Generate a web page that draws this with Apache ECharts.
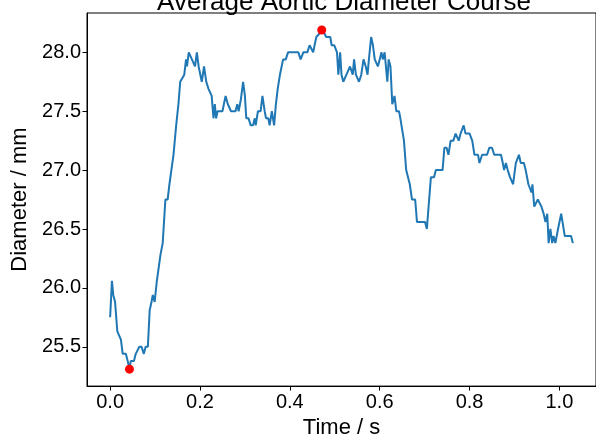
<!DOCTYPE html>
<html>
<head>
<meta charset="utf-8">
<title>Average Aortic Diameter Course</title>
<script src="https://cdn.jsdelivr.net/npm/echarts@6/dist/echarts.min.js"></script>
<style>
  html, body { margin: 0; padding: 0; background: #fff; }
  #chart { width: 596px; height: 444px; }
</style>
</head>
<body>
<div id="chart"></div>
<script>
// Averaged aortic diameter over one cardiac cycle
const times = [
  0.000, 0.004, 0.007, 0.011, 0.016, 0.020, 0.024, 0.028, 0.035, 0.039,
  0.043, 0.046, 0.053, 0.057, 0.061, 0.065, 0.070, 0.075, 0.079, 0.084,
  0.088, 0.092, 0.095, 0.099, 0.104, 0.108, 0.112, 0.117, 0.123, 0.128,
  0.132, 0.136, 0.141, 0.147, 0.152, 0.156, 0.160, 0.165, 0.169, 0.171,
  0.175, 0.178, 0.182, 0.186, 0.189, 0.193, 0.197, 0.200, 0.204, 0.209,
  0.214, 0.219, 0.222, 0.226, 0.230, 0.233, 0.236, 0.239, 0.250, 0.257,
  0.262, 0.266, 0.269, 0.279, 0.283, 0.286, 0.291, 0.296, 0.300, 0.303,
  0.308, 0.313, 0.318, 0.322, 0.324, 0.329, 0.335, 0.339, 0.344, 0.347,
  0.352, 0.355, 0.360, 0.365, 0.369, 0.373, 0.378, 0.382, 0.385, 0.391,
  0.396, 0.419, 0.424, 0.430, 0.439, 0.444, 0.448, 0.452, 0.455, 0.459,
  0.463, 0.466, 0.471, 0.477, 0.481, 0.490, 0.493, 0.499, 0.505, 0.508,
  0.512, 0.515, 0.519, 0.523, 0.526, 0.530, 0.534, 0.537, 0.540, 0.543,
  0.547, 0.551, 0.554, 0.559, 0.564, 0.569, 0.573, 0.576, 0.581, 0.585,
  0.589, 0.593, 0.596, 0.600, 0.604, 0.607, 0.611, 0.617, 0.620, 0.624,
  0.628, 0.633, 0.637, 0.643, 0.646, 0.650, 0.654, 0.659, 0.662, 0.667,
  0.672, 0.679, 0.683, 0.701, 0.705, 0.709, 0.714, 0.721, 0.725, 0.740,
  0.744, 0.749, 0.753, 0.758, 0.764, 0.769, 0.772, 0.776, 0.780, 0.784,
  0.787, 0.791, 0.800, 0.806, 0.811, 0.819, 0.822, 0.828, 0.839, 0.844,
  0.850, 0.855, 0.870, 0.874, 0.877, 0.881, 0.885, 0.890, 0.894, 0.897,
  0.903, 0.907, 0.910, 0.914, 0.921, 0.925, 0.931, 0.935, 0.938, 0.940,
  0.944, 0.947, 0.952, 0.956, 0.960, 0.965, 0.969, 0.973, 0.976, 0.980,
  0.984, 0.987, 0.991, 0.997, 1.000, 1.004, 1.012, 1.026, 1.030
];

const diameters = [
  25.75, 26.06, 25.94, 25.88, 25.63, 25.63, 25.56, 25.44, 25.44, 25.38,
  25.31, 25.38, 25.38, 25.44, 25.44, 25.50, 25.50, 25.44, 25.50, 25.50,
  25.81, 25.88, 25.94, 25.88, 26.06, 26.06, 26.28, 26.38, 26.75, 26.75,
  26.88, 26.88, 27.13, 27.38, 27.56, 27.75, 27.75, 27.81, 27.94, 27.88,
  28.00, 28.00, 27.94, 27.94, 27.88, 28.00, 27.88, 27.88, 27.75, 27.88,
  27.75, 27.69, 27.69, 27.63, 27.44, 27.56, 27.44, 27.50, 27.50, 27.63,
  27.56, 27.56, 27.50, 27.50, 27.56, 27.50, 27.60, 27.75, 27.63, 27.44,
  27.44, 27.38, 27.38, 27.44, 27.38, 27.50, 27.50, 27.63, 27.50, 27.44,
  27.44, 27.38, 27.50, 27.38, 27.56, 27.69, 27.81, 27.81, 27.94, 27.94,
  28.00, 28.00, 27.94, 28.00, 28.00, 28.06, 28.06, 28.00, 28.06, 28.13,
  28.13, 28.16, 28.19, 28.16, 28.13, 28.13, 28.06, 28.06, 28.00, 27.81,
  28.00, 27.81, 27.75, 27.75, 27.81, 27.81, 27.88, 27.88, 27.81, 27.94,
  27.81, 27.81, 27.75, 27.81, 27.94, 27.88, 27.81, 27.94, 28.13, 28.06,
  27.94, 27.94, 27.88, 27.94, 28.00, 27.94, 28.00, 27.75, 27.94, 27.88,
  27.56, 27.63, 27.50, 27.50, 27.44, 27.44, 27.25, 27.00, 27.00, 26.88,
  26.75, 26.75, 26.56, 26.56, 26.50, 26.50, 26.94, 26.94, 27.00, 27.00,
  27.19, 27.19, 27.13, 27.25, 27.25, 27.31, 27.31, 27.25, 27.31, 27.31,
  27.38, 27.31, 27.31, 27.25, 27.13, 27.13, 27.06, 27.13, 27.13, 27.19,
  27.19, 27.13, 27.13, 27.06, 27.00, 27.06, 27.00, 26.94, 26.94, 26.88,
  27.06, 27.06, 27.13, 27.06, 27.06, 27.00, 26.88, 26.88, 26.81, 26.88,
  26.69, 26.69, 26.75, 26.75, 26.69, 26.63, 26.56, 26.63, 26.38, 26.50,
  26.38, 26.44, 26.38, 26.50, 26.50, 26.63, 26.44, 26.44, 26.38
];

// Extremes of the averaged course (minimum and maximum diameter)
const extremaTimes = [0.043, 0.471];
const extremaDiameters = [25.31, 28.19];

const xTicks = [0.0, 0.2, 0.4, 0.6, 0.8, 1.0];
const yTicks = [25.5, 26.0, 26.5, 27.0, 27.5, 28.0];

const FONT = '"Liberation Sans", Arial, Helvetica, sans-serif';

// Axis limits padded by 5% of the data span on each side
const tMin = Math.min(...times), tMax = Math.max(...times);
const dMin = Math.min(...diameters), dMax = Math.max(...diameters);
const tPad = (tMax - tMin) * 0.05, dPad = (dMax - dMin) * 0.05;

const chart = echarts.init(document.getElementById('chart'), null, { renderer: 'canvas' });

chart.setOption({
  backgroundColor: '#ffffff',
  animation: false,
  title: {
    text: 'Average Aortic Diameter Course',
    left: 339,
    textAlign: 'center',
    top: -15,
    textStyle: { fontFamily: FONT, fontSize: 26, fontWeight: 'normal', color: '#000' }
  },
  grid: {
    left: 87, top: 13, width: 514, height: 378,
    show: true, borderColor: '#000', borderWidth: 1, backgroundColor: 'transparent'
  },
  xAxis: {
    type: 'value',
    min: tMin - tPad,
    max: tMax + tPad,
    name: 'Time / s',
    nameLocation: 'middle',
    nameGap: 29,
    nameTextStyle: { fontFamily: FONT, fontSize: 22, color: '#000' },
    axisLine: { show: true, onZero: false, lineStyle: { color: '#000', width: 1 } },
    axisTick: { show: true, length: 4.5, lineStyle: { color: '#000', width: 1 }, customValues: xTicks },
    axisLabel: {
      fontFamily: FONT, fontSize: 20, color: '#000', margin: 6,
      customValues: xTicks,
      formatter: v => v.toFixed(1)
    },
    splitLine: { show: false }
  },
  yAxis: {
    type: 'value',
    min: dMin - dPad,
    max: dMax + dPad,
    name: 'Diameter / mm',
    nameLocation: 'middle',
    nameRotate: 90,
    nameGap: 53,
    nameTextStyle: { fontFamily: FONT, fontSize: 22, color: '#000' },
    axisLine: { show: true, onZero: false, lineStyle: { color: '#000', width: 1 } },
    axisTick: { show: true, length: 4.5, lineStyle: { color: '#000', width: 1 }, customValues: yTicks },
    axisLabel: {
      fontFamily: FONT, fontSize: 20, color: '#000', margin: 6,
      customValues: yTicks,
      formatter: v => v.toFixed(1)
    },
    splitLine: { show: false }
  },
  series: [
    {
      type: 'line',
      data: times.map((t, i) => [t, diameters[i]]),
      showSymbol: false,
      lineStyle: { color: '#1f77b4', width: 2 },
      itemStyle: { color: '#1f77b4' },
      z: 2
    },
    {
      type: 'scatter',
      data: extremaTimes.map((t, i) => [t, extremaDiameters[i]]),
      symbol: 'circle',
      symbolSize: 9,
      itemStyle: { color: '#ff0000', opacity: 1 },
      z: 3
    }
  ]
});
</script>
</body>
</html>
